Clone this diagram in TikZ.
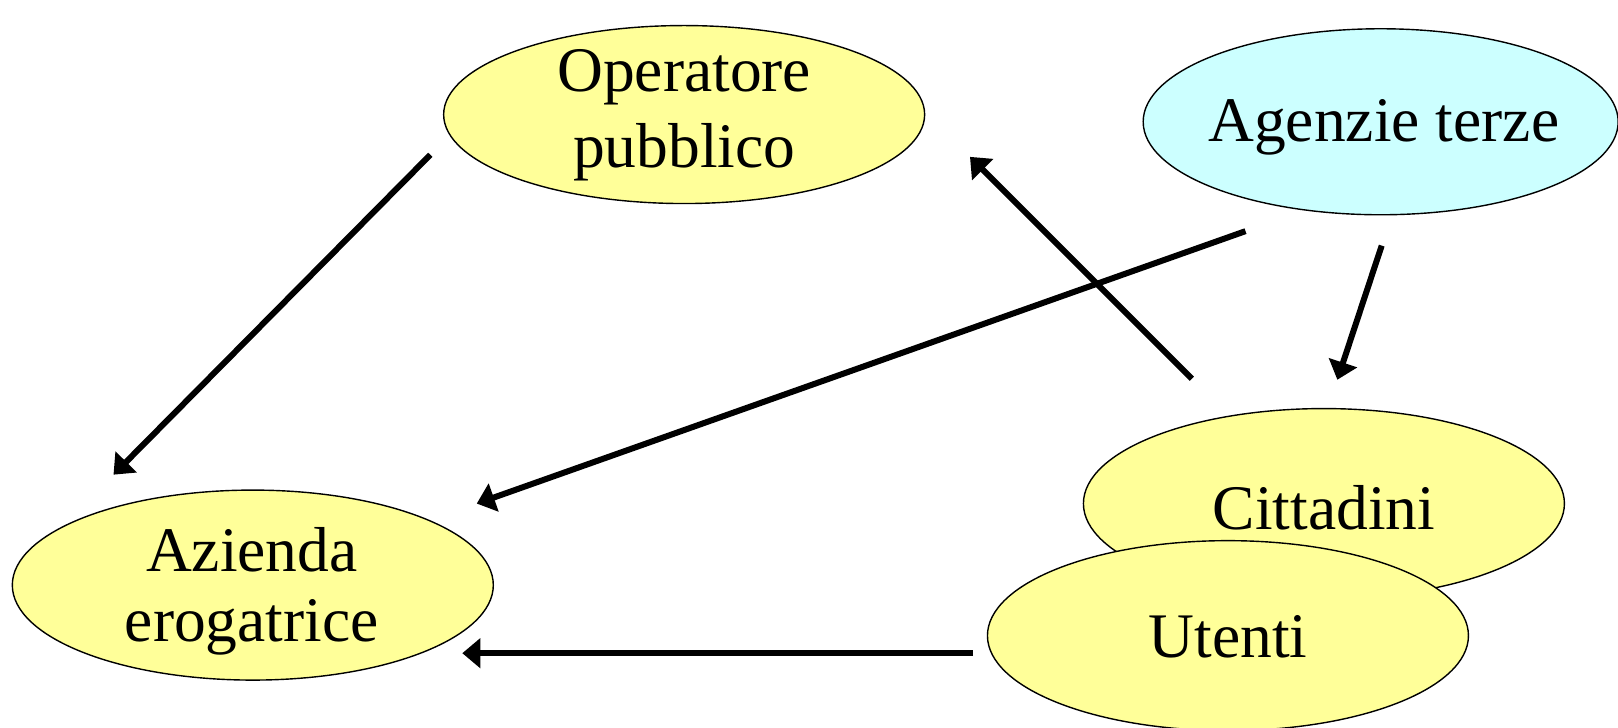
\documentclass[tikz,border=0pt]{standalone}
\usepackage{fontspec}
\setmainfont{Liberation Serif}
\usetikzlibrary{shapes.geometric,arrows.meta}
\definecolor{yel}{HTML}{FFFF99}
\definecolor{cya}{HTML}{CCFFFF}
\tikzset{
  blob/.style={ellipse, draw=black, line width=1.4pt, inner sep=0pt},
  txt/.style={anchor=base, inner sep=0pt, font=\fontsize{63.5pt}{75pt}\selectfont},
  conn/.style={line width=6pt, -{Triangle[length=18pt,width=29pt]}}
}
\begin{document}
\begin{tikzpicture}[x=1.0319pt,y=-1.0319pt]
\useasboundingbox (0,0) rectangle (1568,705);
\node[blob, fill=yel, minimum width=481pt, minimum height=178pt] (op) at (663,111) {};
\node[txt] (op1) at (663,89) {Operatore};
\node[txt] (op2) at (663,162) {pubblico};
\node[blob, fill=cya, minimum width=475pt, minimum height=186pt] (ag) at (1338,118) {};
\node[txt] (ag1) at (1341,137) {Agenzie terze};
\node[blob, fill=yel, minimum width=481pt, minimum height=190pt] (az) at (245,567) {};
\node[txt] (az1) at (244,554) {Azienda};
\node[txt] (az2) at (244,622) {erogatrice};
\node[blob, fill=yel, minimum width=481pt, minimum height=190pt] (cit) at (1283,488) {};
\node[txt] (cit1) at (1283,513.5) {Cittadini};
\node[blob, fill=yel, minimum width=481pt, minimum height=190pt] (ut) at (1190,616) {};
\node[txt] (ut1) at (1190,637) {Utenti};
% connector ends
\coordinate (op-s) at (417,150);
\coordinate (az-n) at (110,460);
\coordinate (ag-w) at (1207,224);
\coordinate (az-ne) at (462,488);
\coordinate (cit-nw) at (1155,367);
\coordinate (op-se) at (940,152);
\coordinate (ag-s) at (1339,238);
\coordinate (cit-n) at (1296,368);
\coordinate (ut-w) at (943,633);
\coordinate (az-e) at (448,633);
\draw[conn] (op-s) -- (az-n);
\draw[conn] (ag-w) -- (az-ne);
\draw[conn] (cit-nw) -- (op-se);
\draw[conn] (ag-s) -- (cit-n);
\draw[conn] (ut-w) -- (az-e);
\end{tikzpicture}
\end{document}
